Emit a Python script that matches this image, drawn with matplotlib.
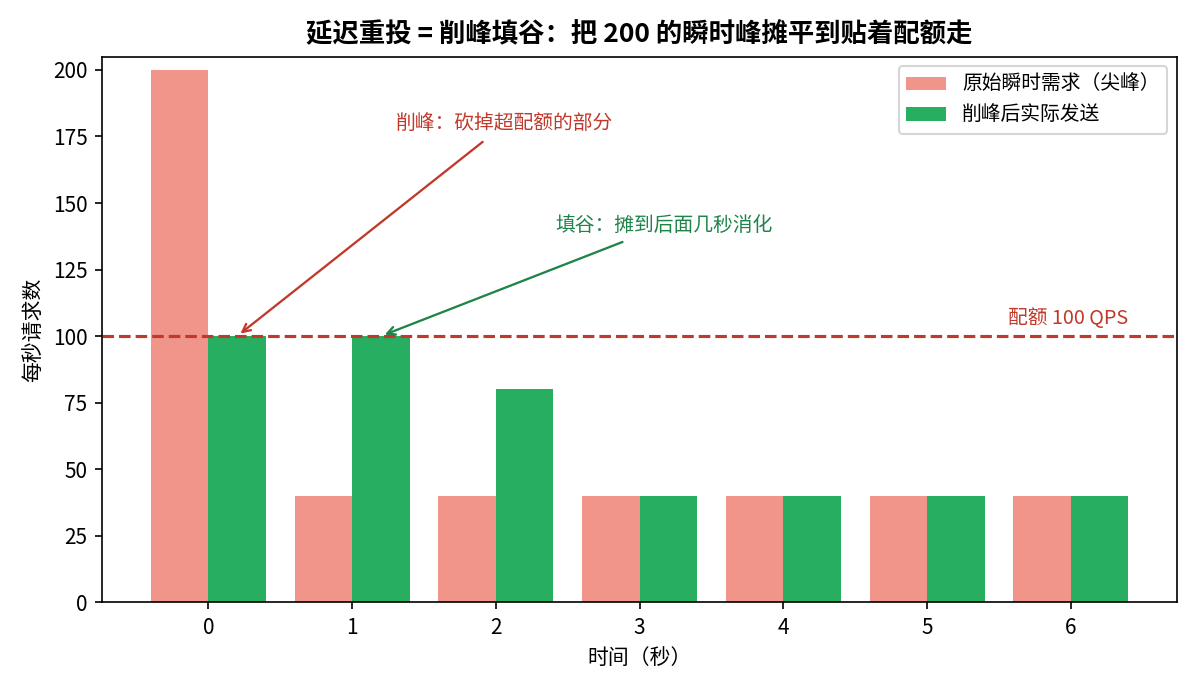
import numpy as np
import matplotlib
matplotlib.use("Agg")
import matplotlib.pyplot as plt

plt.rcParams['font.family'] = ['Noto Sans CJK SC', 'DejaVu Sans']
plt.rcParams['font.size'] = 10
plt.rcParams['axes.unicode_minus'] = False

# data
seconds = [0, 1, 2, 3, 4, 5, 6]
raw_demand = [200, 40, 40, 40, 40, 40, 40]
sent_after = [100, 100, 80, 40, 40, 40, 40]
quota = 100

c_raw = '#F1948A'
c_sent = '#27AE60'
c_red = '#C0392B'
c_green = '#1E8449'

x = np.array(seconds)
w = 0.4

fig, ax = plt.subplots(figsize=(8, 4.6), dpi=150)
ax.bar(x - w/2, raw_demand, w, color=c_raw, label='原始瞬时需求（尖峰）')
ax.bar(x + w/2, sent_after, w, color=c_sent, label='削峰后实际发送')

ax.axhline(quota, color=c_red, linestyle='--', linewidth=1.5)
ax.text(x[-1] + w, quota + 2.5, f'配额 {quota} QPS', color=c_red,
        ha='right', va='bottom', fontsize=9.5)

# annotations: cut the peak, fill the valley
ax.annotate('削峰：砍掉超配额的部分', xy=(0.2, 100), xytext=(2.06, 175.5),
            color=c_red, ha='center', va='bottom', fontsize=9.5,
            arrowprops=dict(arrowstyle='->', color=c_red, lw=1.1))
ax.annotate('填谷：摊到后面几秒消化', xy=(1.2, 100), xytext=(3.17, 137.5),
            color=c_green, ha='center', va='bottom', fontsize=9.5,
            arrowprops=dict(arrowstyle='->', color=c_green, lw=1.1))

ax.set_xticks(x)
ax.set_ylim(0, 205)
ax.set_xlabel('时间（秒）')
ax.set_ylabel('每秒请求数')
ax.set_title('延迟重投 = 削峰填谷：把 200 的瞬时峰摊平到贴着配额走',
             fontsize=12.7, fontweight='bold', pad=7)
ax.legend(loc='upper right', fontsize=9.5)

plt.subplots_adjust(left=0.085, right=0.981, top=0.918, bottom=0.127)
plt.savefig('out.png')
